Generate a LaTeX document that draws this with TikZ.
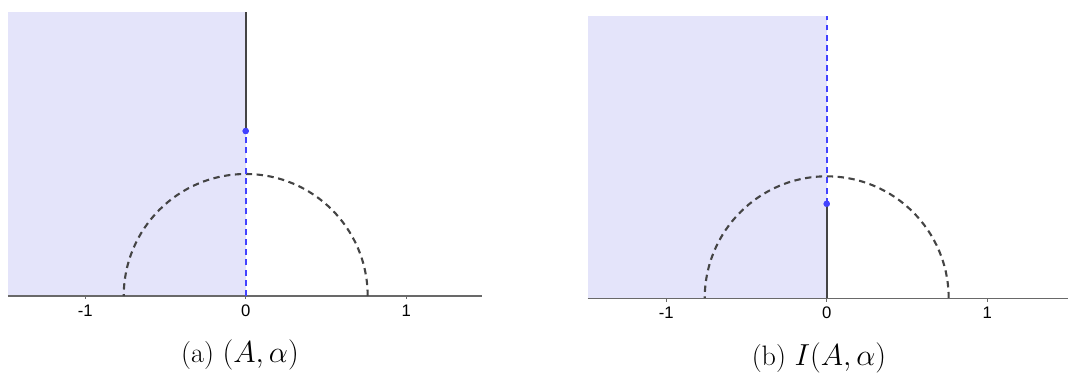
\documentclass[tikz,border=0pt]{standalone}
\usepackage{fontspec}
\newfontfamily\ticksf{Liberation Sans}
\usetikzlibrary{positioning}
\definecolor{regionfill}{RGB}{228,228,250}
\definecolor{rayblue}{RGB}{66,66,255}
\definecolor{raydark}{RGB}{68,68,68}
\definecolor{axisgray}{RGB}{105,105,105}

\begin{document}
\begin{tikzpicture}[
  x=3.21cm, y=3.21cm,
  region/.style={fill=regionfill, draw=none},
  axisline/.style={draw=axisgray, line width=0.6pt},
  arcline/.style={draw=raydark, line width=1.2pt, dash pattern=on 3.6pt off 2.6pt},
  openray/.style={draw=rayblue, line width=1.1pt, dash pattern=on 3.4pt off 2.4pt},
  closedray/.style={draw=raydark, line width=1.1pt},
  endpt/.style={circle, fill=rayblue, inner sep=0pt, minimum size=3.6pt},
  ticklbl/.style={font=\ticksf\fontsize{9.5}{11}\selectfont, anchor=north, inner sep=0pt},
  caption/.style={font=\fontsize{16}{19}\selectfont}
]
\useasboundingbox (0,0) rectangle (21.36cm,7.56cm);

% (a) the pair (A, alpha)
\begin{scope}[shift={(4.914cm,1.64cm)}]
\fill[region] (-1.481,0) rectangle (0,1.769);
\draw[axisline] (-1.481,0) -- (1.472,0);
\foreach \t/\l in {-1/-1,0/0,1/1} {
  \draw[axisline] (\t,0) -- (\t,-0.02);
  \node[ticklbl] (tickA\t) at ([yshift=-0.17cm]\t,0) {\l};
}
\draw[arcline] (0.76,0) arc (0:180:0.76);
\coordinate (baseA) at (0,0);
\coordinate (topA) at (0,1.769);
\node[endpt] (dotA) at (0,1.028) {};
\draw[openray] (baseA) -- (dotA.center);
\draw[closedray] (dotA.center) -- (topA);
\node[endpt] at (dotA) {};
\node[caption] (capA) at (-0.114cm,-1.18cm) {(a) $(A,\alpha)$};
\end{scope}

% (b) its image I(A, alpha)
\begin{scope}[shift={(16.534cm,1.594cm)}]
\fill[region] (-1.489,0) rectangle (0,1.761);
\draw[arcline] (0.76,0) arc (0:180:0.76);
\draw[axisline] (-1.489,0) -- (1.503,0);
\foreach \t/\l in {-1/-1,0/0,1/1} {
  \draw[axisline] (\t,0) -- (\t,-0.02);
  \node[ticklbl] (tickB\t) at ([yshift=-0.17cm]\t,0) {\l};
}
\coordinate (baseB) at (0,0);
\coordinate (topB) at (0,1.761);
\node[endpt] (dotB) at (0,0.589) {};
\draw[closedray] (baseB) -- (dotB.center);
\draw[openray] (dotB.center) -- (topB);
\node[endpt] at (dotB) {};
\node[caption] (capB) at (-0.154cm,-1.194cm) {(b) $I(A,\alpha)$};
\end{scope}
\end{tikzpicture}
\end{document}
